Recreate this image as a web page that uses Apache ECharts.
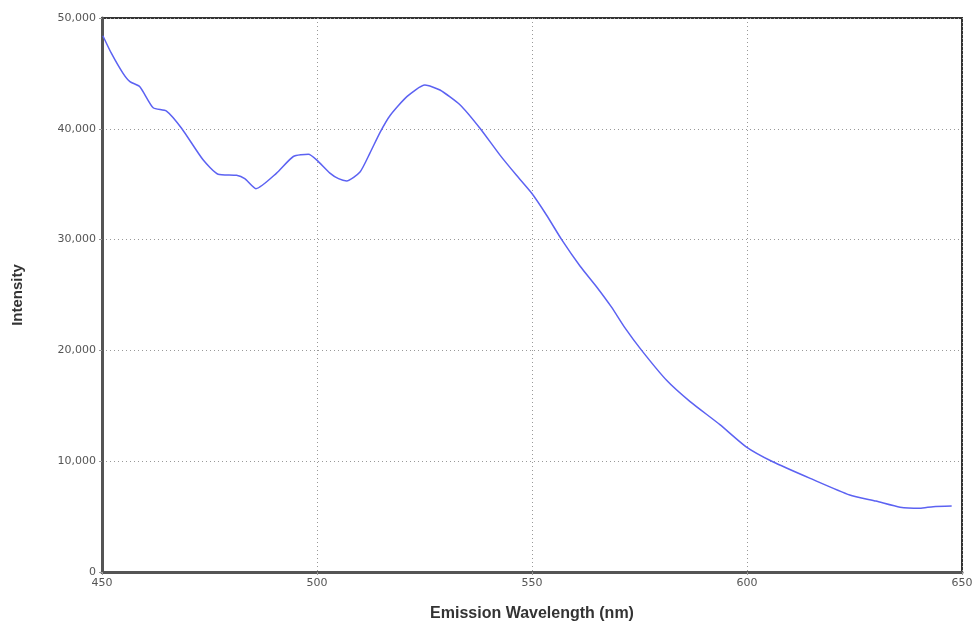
<!DOCTYPE html>
<html>
<head>
<meta charset="utf-8">
<script src="https://cdn.jsdelivr.net/npm/echarts@6/dist/echarts.min.js"></script>
<style>
  html, body { margin: 0; padding: 0; background: #fff; }
  #chart { width: 973px; height: 623px; }
</style>
</head>
<body>
<div id="chart"></div>
<script>
// emission spectrum
var wavelengths = [450.2, 452.2, 454.9, 456.5, 458.8, 461.9, 465, 468.5, 473.5, 477, 481.3, 483.2, 485.8,
    490.6, 494.5, 498, 499.9, 503, 505, 506.9, 510, 512.3, 514.7, 517, 520.9, 525.1, 528.6, 533.3, 537.9,
    542.6, 546.4, 549.9, 553.4, 556.9, 561.2, 565, 568.5, 571.5, 575.5, 581.3, 586.7, 593.7, 599.8, 606,
    614.7, 623.9, 630, 635.6, 640.2, 643.3, 647.6];
var intensity = [48400, 46800, 45000, 44250, 43800, 41900, 41600, 40050, 37200, 35900, 35800, 35500, 34600,
    36000, 37500, 37700, 37200, 36000, 35500, 35300, 36100, 37800, 39700, 41200, 42900, 43950, 43500, 42150, 40050,
    37600, 35800, 34200, 32200, 30000, 27600, 25750, 23900, 22100, 20000, 17300, 15400, 13300, 11300, 9950,
    8450, 6950, 6400, 5850, 5750, 5900, 5950];
var xTicks = [450, 500, 550, 600, 650];
var yTicks = [0, 10000, 20000, 30000, 40000, 50000];

var points = [];
for (var i = 0; i < wavelengths.length; i++) {
    points.push([wavelengths[i], intensity[i]]);
}

var chart = echarts.init(document.getElementById('chart'));
var option = {
    animation: false,
    grid: {
        left: 102,
        right: 11,
        top: 18,
        bottom: 51,
        outerBoundsMode: 'none',
        containLabel: false,
        show: true,
        borderColor: '#333',
        borderWidth: 2
    },
    xAxis: {
        type: 'value',
        min: xTicks[0],
        max: xTicks[xTicks.length - 1],
        interval: 50,
        name: 'Emission Wavelength (nm)',
        nameLocation: 'middle',
        nameGap: 34,
        nameTextStyle: { fontFamily: 'Liberation Sans', fontWeight: 'bold', fontSize: 16, color: '#333' },
        axisLine: { show: true, lineStyle: { color: '#555', width: 3 } },
        axisTick: { show: true, length: 3, lineStyle: { color: '#999' } },
        axisLabel: { fontFamily: 'DejaVu Sans', fontSize: 11, color: '#555', margin: 6 },
        splitLine: { show: true, lineStyle: { color: '#999', type: [1, 3], width: 1 } }
    },
    yAxis: {
        type: 'value',
        min: yTicks[0],
        max: yTicks[yTicks.length - 1],
        interval: 10000,
        name: 'Intensity',
        nameLocation: 'middle',
        nameGap: 77,
        nameTextStyle: { fontFamily: 'Liberation Sans', fontWeight: 'bold', fontSize: 15, color: '#333' },
        axisLine: { show: true, lineStyle: { color: '#555', width: 3 } },
        axisTick: { show: true, length: 3, lineStyle: { color: '#999' } },
        axisLabel: {
            fontFamily: 'DejaVu Sans', fontSize: 11, color: '#555', margin: 6,
            formatter: function (v) { return v.toLocaleString('en-US'); }
        },
        splitLine: { show: true, lineStyle: { color: '#999', type: [1, 3], width: 1 } }
    },
    series: [{
        type: 'line',
        data: points,
        showSymbol: false,
        smooth: 0.2,
        lineStyle: { color: '#5c62f2', width: 1.5 }
    }]
};
chart.setOption(option);
</script>
</body>
</html>
